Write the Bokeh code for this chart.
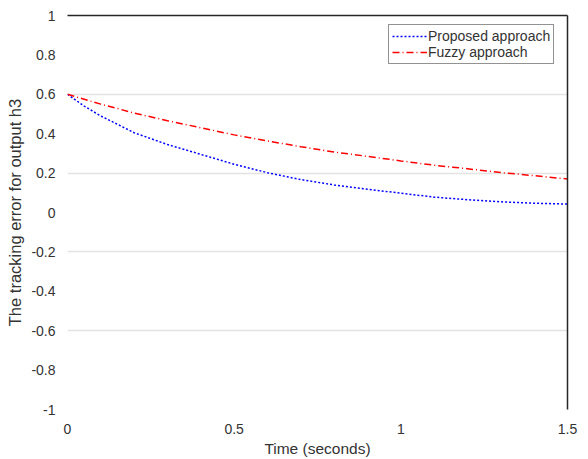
from bokeh.plotting import figure
from bokeh.models import (FixedTicker, LinearAxis, Legend, LegendItem, Range1d)
from bokeh.embed import file_html
from bokeh.resources import INLINE

# Time samples (seconds)
time_s = [0.0, 0.05, 0.1, 0.2, 0.3, 0.4, 0.5, 0.6, 0.7, 0.8, 0.9, 1.0, 1.1, 1.2, 1.3, 1.4, 1.5]

# Tracking error for output h3
proposed_err = [0.60, 0.54, 0.49, 0.405, 0.345, 0.295, 0.245, 0.202, 0.167, 0.140, 0.118,
                0.098, 0.078, 0.065, 0.054, 0.047, 0.043]
fuzzy_err = [0.60, 0.575, 0.550, 0.505, 0.466, 0.430, 0.394, 0.363, 0.334, 0.307, 0.285,
             0.262, 0.240, 0.222, 0.203, 0.187, 0.170]

y_ticks = [-1, -0.8, -0.6, -0.4, -0.2, 0, 0.2, 0.4, 0.6, 0.8, 1]
y_tick_labels = ["-1", "-0.8", "-0.6", "-0.4", "-0.2", "0", "0.2", "0.4", "0.6", "0.8", "1"]
x_ticks = [0, 0.5, 1, 1.5]
x_tick_labels = ["0", "0.5", "1", "1.5"]
grid_levels = [-0.6, -0.2, 0.2, 0.6]

FONT = "Liberation Sans"
TEXT = "#333333"
EDGE = "#262626"

p = figure(width=588, height=459, output_backend="svg", toolbar_location=None,
           x_range=Range1d(0, 1.5), y_range=Range1d(-1, 1),
           min_border_left=67, min_border_right=21, min_border_top=15,
           min_border_bottom=50)
p.outline_line_color = None
p.background_fill_color = "white"
p.border_fill_color = "white"

# grid
p.xgrid.grid_line_color = None
p.ygrid.ticker = FixedTicker(ticks=grid_levels)
p.ygrid.grid_line_color = "#e3e3e3"
p.ygrid.grid_line_width = 1.5

# axes
for ax in (p.xaxis[0], p.yaxis[0]):
    ax.axis_line_color = None
    ax.major_tick_line_color = None
    ax.minor_tick_line_color = None
    ax.major_label_text_font = FONT
    ax.major_label_text_color = TEXT
    ax.major_label_text_font_size = "14px"
    ax.axis_label_text_font = FONT
    ax.axis_label_text_color = TEXT
    ax.axis_label_text_font_style = "normal"

p.xaxis.ticker = FixedTicker(ticks=x_ticks)
p.yaxis.ticker = FixedTicker(ticks=y_ticks)
p.xaxis.major_label_overrides = dict(zip(x_ticks, x_tick_labels))
p.yaxis.major_label_overrides = dict(zip(y_ticks, y_tick_labels))
p.xaxis.major_label_standoff = 8
p.yaxis.major_label_standoff = 6
p.xaxis.axis_label = "Time (seconds)"
p.xaxis.axis_label_text_font_size = "15.5px"
p.xaxis.axis_label_standoff = 3
p.yaxis.axis_label = "The tracking error for output h3"
p.yaxis.axis_label_text_font_size = "16.5px"
p.yaxis.axis_label_standoff = 4

# top and right frame lines
for side in ("above", "right"):
    edge = LinearAxis(major_tick_line_color=None, minor_tick_line_color=None,
                      major_label_text_font_size="0px", axis_line_color=EDGE,
                      axis_line_width=1.5, ticker=FixedTicker(ticks=[]))
    p.add_layout(edge, side)

# curves
r_prop = p.line(time_s, proposed_err, line_color="#0000ff", line_width=1.5,
                line_dash="2 2")
r_fuzzy = p.line(time_s, fuzzy_err, line_color="#ff0000", line_width=1.5,
                 line_dash="7 3 1 3")

legend = Legend(items=[LegendItem(label="Proposed approach", renderers=[r_prop]),
                       LegendItem(label="Fuzzy approach", renderers=[r_fuzzy])],
                location=(321, 345), orientation="vertical",
                label_text_font=FONT, label_text_font_size="14px",
                label_text_color=TEXT, glyph_width=35, glyph_height=16,
                label_height=16, label_standoff=1, padding=3, spacing=0,
                margin=0, border_line_color=EDGE, border_line_width=1,
                background_fill_color="white", background_fill_alpha=1.0)
p.add_layout(legend, "center")

open("out.html", "w").write(file_html(p, INLINE))
